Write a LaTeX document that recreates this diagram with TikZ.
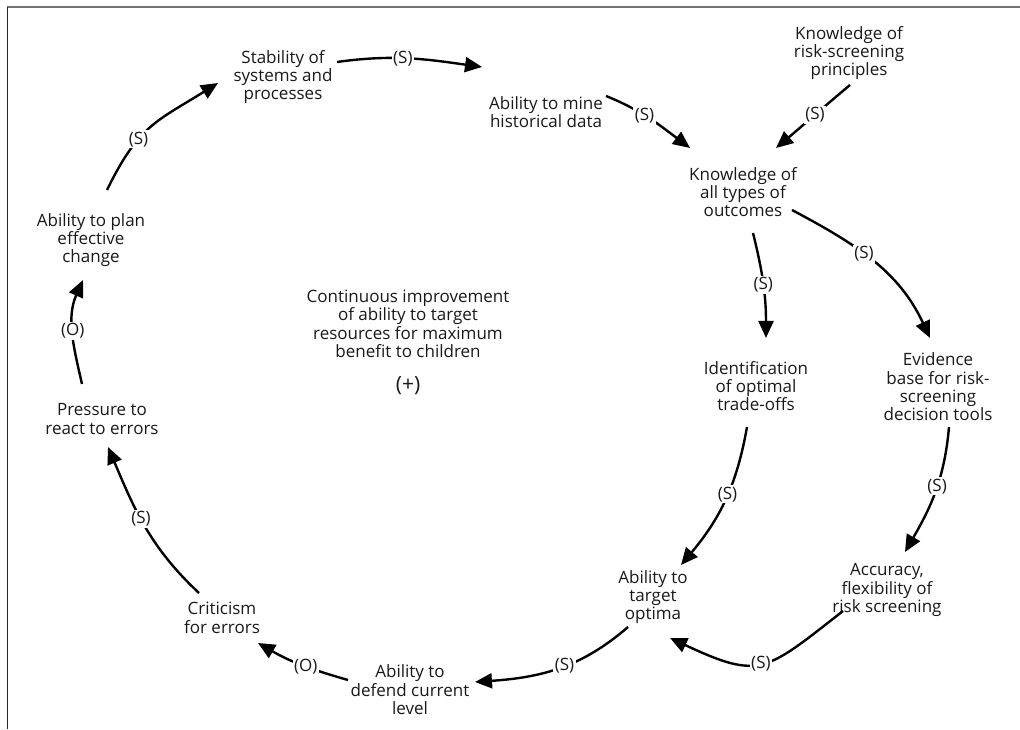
\documentclass[tikz,border=0pt]{standalone}
\usepackage{fontspec}
\setmainfont{Open Sans}
\usetikzlibrary{arrows.meta}
\begin{document}
\begin{tikzpicture}[x=1pt,y=1pt,
  box/.style={align=center, font=\fontsize{17}{18.4}\selectfont, inner sep=2pt, text=black!90},
  conn/.style={line width=2.4pt, -{Triangle[length=17pt,width=15pt]}},
  lbl/.style={fill=white, inner sep=1.5pt, font=\fontsize{17}{18.4}\selectfont, text=black!90}]
\useasboundingbox (0,0) rectangle (1020,729);
\draw[line width=1.5pt, black!55] (7,722) -- (1020,722);
\draw[line width=1pt, black!85] (7,722) -- (7,0);

\node[box] (stab) at (283,652) {Stability of\\systems and\\processes};
\node[box] (mine) at (546,617) {Ability to mine\\historical data};
\node[box] (risk) at (849,676) {Knowledge of\\risk-screening\\principles};
\node[box] (outc) at (743,537) {Knowledge of\\all types of\\outcomes};
\node[box] (ident) at (756,343) {Identification\\of optimal\\trade-offs};
\node[box] (evid) at (938,342) {Evidence\\base for risk-\\screening\\decision tools};
\node[box] (accu) at (887,139) {Accuracy,\\flexibility of\\risk screening};
\node[box] (targ) at (653,132) {Ability to\\target\\optima};
\node[box] (defd) at (410,39) {Ability to\\defend current\\level};
\node[box] (crit) at (222,111) {Criticism\\for errors};
\node[box] (press) at (102,310) {Pressure to\\react to errors};
\node[box] (plan) at (91,489) {Ability to plan\\effective\\change};
\node[box] (title) at (408,405) {Continuous improvement\\of ability to target\\resources for maximum\\benefit to children};
\node[box, font=\fontsize{21}{22}\selectfont] (plus) at (408,343) {(+)};

\draw[conn] ([shift={(16,50)}]plan.center) to[out=64,in=212,looseness=1.2] node[lbl,pos=0.36]{(S)} ([shift={(-65,-6)}]stab.center);
\draw[conn] ([shift={(54,15)}]stab.center) to[out=8,in=172] node[lbl,pos=0.45]{(S)} ([shift={(-64,45)}]mine.center);
\draw[conn] ([shift={(60,16)}]mine.center) to[out=-22,in=143] node[lbl,pos=0.43]{(S)} ([shift={(-53,44)}]outc.center);
\draw[conn] ([shift={(1,-32)}]risk.center) to[out=220,in=40] node[lbl,pos=0.47]{(S)} ([shift={(33,44)}]outc.center);
\draw[conn] ([shift={(10,-41)}]outc.center) to[out=-76,in=90] node[lbl,pos=0.5]{(S)} ([shift={(10,48)}]ident.center);
\draw[conn] ([shift={(49,-18)}]outc.center) to[out=-28,in=115] node[lbl,pos=0.43]{(S)} ([shift={(-8,49)}]evid.center);
\draw[conn] ([shift={(-9,-41)}]ident.center) to[out=-100,in=50] node[lbl,pos=0.45]{(S)} ([shift={(28,32)}]targ.center);
\draw[conn] ([shift={(11,-40)}]evid.center) to[out=-95,in=60] node[lbl,pos=0.45]{(S)} ([shift={(18,38)}]accu.center);
\draw[conn] ([shift={(-44,-21)}]accu.center) to[out=218,in=-25,looseness=1.45] node[lbl,pos=0.5]{(S)} ([shift={(17,-41)}]targ.center);
\draw[conn] ([shift={(-25,-30)}]targ.center) to[out=221,in=4] node[lbl,pos=0.45]{(S)} ([shift={(65,8)}]defd.center);
\draw[conn] ([shift={(-62,10)}]defd.center) to[out=164,in=-30] node[lbl,pos=0.45]{(O)} ([shift={(36,-25)}]crit.center);
\draw[conn] ([shift={(-23,25)}]crit.center) to[out=137,in=-67] node[lbl,pos=0.55]{(S)} ([shift={(6,-28)}]press.center);
\draw[conn] ([shift={(-20,35)}]press.center) to[out=103,in=-114] node[lbl,pos=0.5]{(O)} ([shift={(-8,-40)}]plan.center);
\end{tikzpicture}
\end{document}
